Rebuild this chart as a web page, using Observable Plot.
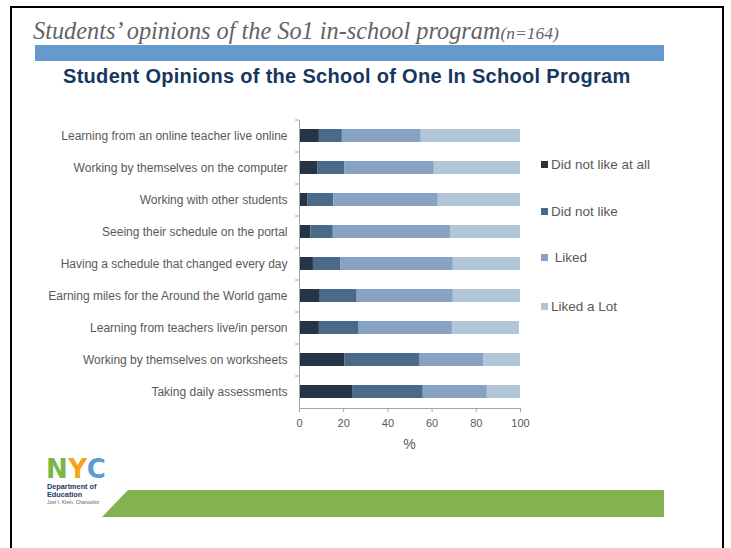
<!DOCTYPE html>
<html>
<head>
<meta charset="utf-8">
<script src="https://cdn.jsdelivr.net/npm/d3@7"></script>
<script src="https://cdn.jsdelivr.net/npm/@observablehq/plot@0.6"></script>
<style>
html, body { margin: 0; padding: 0; background: #fff; }
body { width: 731px; height: 548px; position: relative; overflow: hidden; font-family: "Liberation Sans", Arial, sans-serif; }
.abs { position: absolute; white-space: nowrap; }
#frame { left: 10px; top: 6px; width: 710px; height: 560px; border: 2px solid #000; border-bottom: none; }
#slideTitle { left: 33px; top: 19px; font-family: "Liberation Serif", "Times New Roman", serif; font-style: italic; font-size: 24.3px; line-height: 24px; color: #636363; }
#slideTitle small { font-size: 17.5px; }
#blueBar { left: 35px; top: 45px; width: 629px; height: 16px; background: #6699cc; }
#chartTitle { left: 63px; top: 66px; font-weight: bold; font-size: 20px; line-height: 20px; letter-spacing: 0.3px; color: #17375e; }
#chart { left: 0; top: 0; }
#xLabel { left: 0; top: 437px; width: 819px; text-align: center; font-size: 14px; line-height: 14px; color: #595959; }
.legItem { position: absolute; left: 541px; font-size: 13.5px; line-height: 15px; color: #595959; white-space: pre; }
.legItem span.sw { display: inline-block; width: 7px; height: 7px; margin-right: 3px; vertical-align: 1px; }
#logo { left: 46px; top: 459px; height: 20px; font-family: "DejaVu Sans", sans-serif; font-weight: bold; font-size: 26px; line-height: 20px; letter-spacing: 0.5px; }
#dept { left: 47px; top: 483px; font-weight: bold; font-size: 7.3px; line-height: 7.6px; color: #1f3864; }
#klein { left: 47px; top: 500px; font-size: 5px; line-height: 5px; color: #666; }
#green { left: 0; top: 0; }
</style>
</head>
<body>
<div id="frame" class="abs"></div>
<div id="slideTitle" class="abs">Students’ opinions of the So1 in-school program<small>(n=164)</small></div>
<div id="blueBar" class="abs"></div>
<div id="chartTitle" class="abs">Student Opinions of the School of One In School Program</div>
<div id="chart" class="abs"></div>
<div id="xLabel" class="abs"></div>
<div id="legend"></div>
<div id="logo" class="abs"><span style="color:#7ab648">N</span><span style="color:#f7a21b">Y</span><span style="color:#5b9bd5">C</span></div>
<div id="dept" class="abs">Department of<br>Education</div>
<div id="klein" class="abs">Joel I. Klein, Chancellor</div>
<svg id="green" class="abs" width="731" height="548"><polygon points="102,517 128,490 664,490 664,517" fill="#82b34e"/></svg>
<script>
const categories = [
  "Learning from an online teacher live online",
  "Working by themselves on the computer",
  "Working with other students",
  "Seeing their schedule on the portal",
  "Having a schedule that changed every day",
  "Earning miles for the Around the World game",
  "Learning from teachers live/in person",
  "Working by themselves on worksheets",
  "Taking daily assessments"
];
const responses = ["Did not like at all", "Did not like", "Liked", "Liked a Lot"];
const didNotLikeAtAll = [9.0, 8.4, 3.9, 5.2, 6.3, 9.4, 9.0, 20.6, 24.3];
const didNotLike      = [10.4, 12.2, 11.7, 10.1, 12.5, 16.7, 18.0, 34.0, 31.7];
const liked           = [35.7, 40.4, 47.2, 53.0, 50.8, 43.5, 42.2, 28.9, 29.0];
const likedALot       = [44.9, 39.0, 37.2, 31.7, 30.4, 30.4, 30.3, 16.5, 15.0];
const xTicks = [0, 20, 40, 60, 80, 100];
const xLabel = "%";
const colors = ["#263546", "#4a6a8a", "#87a3c1", "#b3c5d9"];

const series = [didNotLikeAtAll, didNotLike, liked, likedALot];
const rows = categories.flatMap((c, i) => responses.map((r, j) => ({category: c, response: r, value: series[j][i]})));

const chart = Plot.plot({
  width: 731,
  height: 548,
  marginLeft: 299,
  marginRight: 211,
  marginTop: 120,
  marginBottom: 140,
  style: {fontFamily: "'Liberation Sans', Arial, sans-serif", fontSize: "11px", color: "#595959", background: "transparent", overflow: "visible"},
  x: {domain: [0, 100]},
  y: {domain: categories, paddingInner: 0.58, paddingOuter: 0.29},
  color: {domain: responses, range: colors},
  marks: [
    Plot.barX(rows, {x: "value", y: "category", fill: "response"}),
    Plot.frame({anchor: "left", stroke: "#a6a6a6"}),
    Plot.frame({anchor: "bottom", stroke: "#a6a6a6"}),
    Plot.axisX({ticks: xTicks, tickSize: 4, tickPadding: 7, label: null, stroke: "#a6a6a6", fill: "#595959"}),
    Plot.axisY({tickSize: 0, tickPadding: 12, label: null, fill: "#595959", fontSize: 12}),
    Plot.axisY({tickSize: 4, tickFormat: () => "", label: null, dy: -16, stroke: "#a6a6a6"})
  ]
});
document.getElementById("chart").appendChild(chart);
document.getElementById("xLabel").textContent = xLabel;

const legendTops = [157, 204, 250, 299];
const legend = document.getElementById("legend");
responses.forEach((r, i) => {
  const d = document.createElement("div");
  d.className = "legItem";
  d.style.top = legendTops[i] + "px";
  const sw = document.createElement("span");
  sw.className = "sw";
  sw.style.background = colors[i];
  d.appendChild(sw);
  d.appendChild(document.createTextNode(r === "Liked" ? " " + r : r));
  legend.appendChild(d);
});
</script>
</body>
</html>
